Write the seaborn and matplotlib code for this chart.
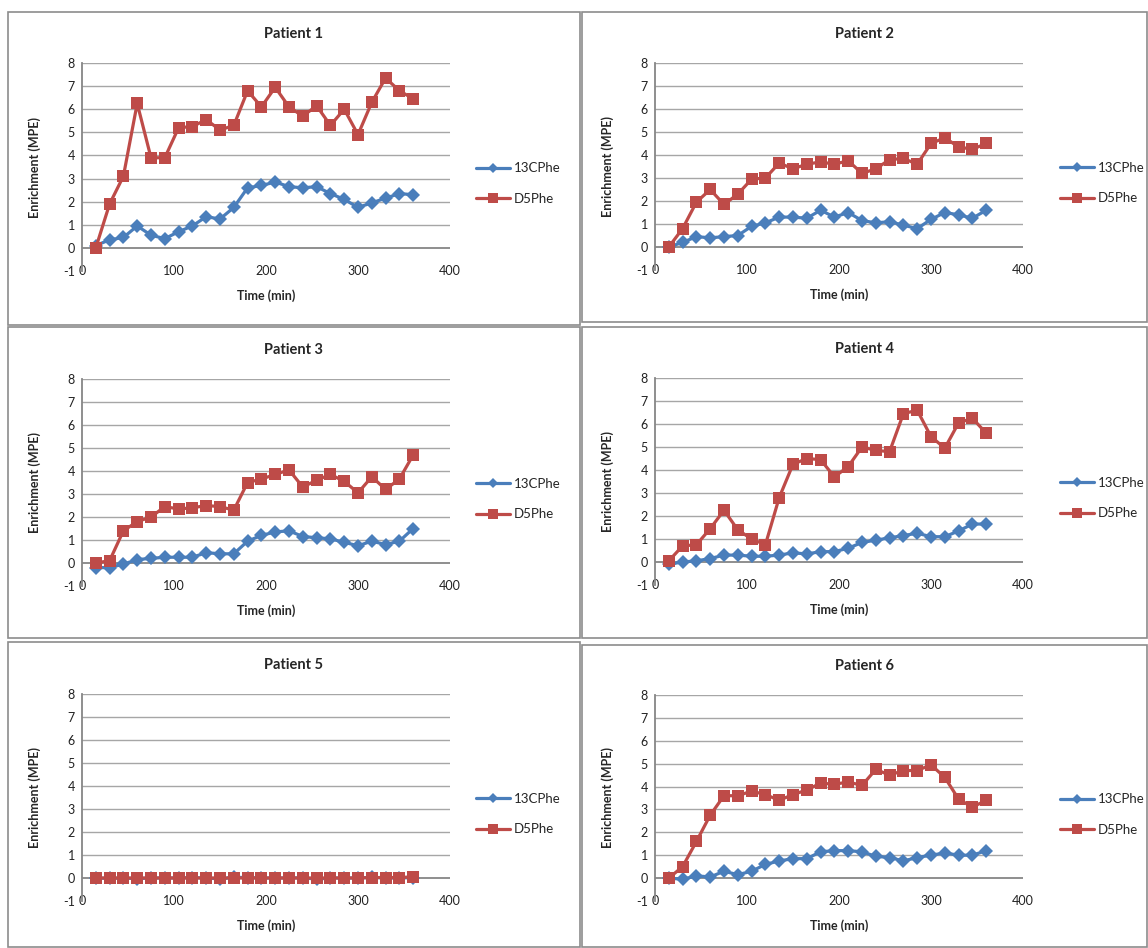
import pandas as pd
import matplotlib
matplotlib.use("Agg")
import matplotlib.pyplot as plt
from matplotlib.patches import Rectangle
import seaborn as sns

sns.set_style("white")
plt.rcParams['font.family'] = ['Lato', 'DejaVu Sans']
plt.rcParams['axes.unicode_minus'] = False

# --- data ---
time_min = [15, 30, 45, 60, 75, 90, 105, 120, 135, 150, 165, 180,
            195, 210, 225, 240, 255, 270, 285, 300, 315, 330, 345, 360]

p1_13c = [0.1, 0.35, 0.45, 0.95, 0.55, 0.4, 0.7, 0.95, 1.35, 1.25, 1.75, 2.6,
          2.7, 2.85, 2.65, 2.6, 2.65, 2.35, 2.1, 1.75, 1.95, 2.15, 2.35, 2.3]
p1_d5 = [0.0, 1.9, 3.1, 6.25, 3.9, 3.9, 5.2, 5.25, 5.55, 5.1, 5.3, 6.8,
         6.1, 6.95, 6.1, 5.7, 6.15, 5.3, 6.0, 4.9, 6.3, 7.35, 6.8, 6.45]

p2_13c = [0.0, 0.2, 0.45, 0.4, 0.45, 0.5, 0.9, 1.05, 1.3, 1.3, 1.25, 1.6,
          1.3, 1.5, 1.15, 1.05, 1.1, 0.95, 0.8, 1.2, 1.5, 1.4, 1.25, 1.6]
p2_d5 = [0.0, 0.8, 1.95, 2.5, 1.85, 2.3, 2.95, 3.0, 3.65, 3.4, 3.6, 3.7,
         3.6, 3.75, 3.2, 3.4, 3.8, 3.85, 3.6, 4.5, 4.75, 4.35, 4.25, 4.5]

p3_13c = [-0.2, -0.2, -0.05, 0.15, 0.2, 0.25, 0.25, 0.25, 0.45, 0.4, 0.4, 0.95,
          1.2, 1.35, 1.4, 1.15, 1.1, 1.05, 0.9, 0.75, 0.95, 0.8, 0.95, 1.5]
p3_d5 = [0.0, 0.1, 1.4, 1.8, 2.0, 2.45, 2.35, 2.4, 2.5, 2.45, 2.3, 3.5,
         3.65, 3.85, 4.05, 3.3, 3.6, 3.85, 3.55, 3.05, 3.75, 3.2, 3.65, 4.7]

p4_13c = [-0.1, 0.0, 0.05, 0.15, 0.3, 0.3, 0.25, 0.25, 0.3, 0.4, 0.35, 0.45,
          0.45, 0.6, 0.85, 0.95, 1.05, 1.15, 1.25, 1.1, 1.1, 1.35, 1.65, 1.65]
p4_d5 = [0.05, 0.7, 0.75, 1.45, 2.25, 1.4, 1.0, 0.75, 2.8, 4.25, 4.5, 4.45,
         3.7, 4.15, 5.0, 4.85, 4.8, 6.45, 6.6, 5.45, 4.95, 6.05, 6.25, 5.6]

p5_13c = [0.0, -0.02, 0.0, -0.03, 0.0, 0.0, 0.0, 0.02, 0.0, -0.04, 0.03, 0.02,
          0.0, 0.0, 0.0, 0.01, -0.05, 0.0, 0.0, 0.0, 0.03, 0.0, 0.0, 0.02]
p5_d5 = [0.0, 0.0, 0.0, 0.0, 0.0, 0.0, 0.0, 0.0, 0.0, 0.0, 0.0, 0.0,
         0.0, 0.0, 0.0, 0.0, 0.0, 0.0, 0.0, 0.0, 0.02, 0.02, 0.02, 0.05]

p6_13c = [0.0, -0.05, 0.1, 0.05, 0.3, 0.15, 0.3, 0.6, 0.75, 0.85, 0.85, 1.15,
          1.2, 1.2, 1.15, 0.95, 0.9, 0.75, 0.9, 1.0, 1.1, 1.0, 1.0, 1.2]
p6_d5 = [0.0, 0.5, 1.6, 2.75, 3.6, 3.6, 3.8, 3.65, 3.4, 3.65, 3.85, 4.15,
         4.1, 4.2, 4.05, 4.75, 4.5, 4.7, 4.7, 4.95, 4.4, 3.45, 3.1, 3.4]

patients = ["Patient 1", "Patient 2", "Patient 3", "Patient 4", "Patient 5", "Patient 6"]
series_13c = [p1_13c, p2_13c, p3_13c, p4_13c, p5_13c, p6_13c]
series_d5 = [p1_d5, p2_d5, p3_d5, p4_d5, p5_d5, p6_d5]

# --- layout in pixels (figure is 1148 x 948) ---
W, H = 1148, 948
boxes = [(8, 12, 580, 325), (582, 12, 1147, 322),
         (8, 327, 580, 638), (582, 327, 1147, 638),
         (8, 642, 580, 947), (582, 645, 1147, 947)]
plots = [(82, 63, 450, 271), (655, 63, 1023, 270),
         (82, 379, 450, 586), (655, 378, 1023, 585),
         (82, 694, 450, 901), (655, 695, 1023, 901)]
title_y = [34, 34, 350, 349, 665, 666]

colors = {"13CPhe": "#4A7EBB", "D5Phe": "#BE4B48"}
markers = {"13CPhe": "D", "D5Phe": "s"}
msize = {"D": 7.5, "s": 8.6}

fig = plt.figure(figsize=(W / 100, H / 100), dpi=100)

for i, name in enumerate(patients):
    bx0, by0, bx1, by1 = boxes[i]
    fig.patches.append(Rectangle((bx0 / W, 1 - by1 / H), (bx1 - bx0) / W, (by1 - by0) / H,
                                 transform=fig.transFigure, fill=False,
                                 edgecolor="#8c8c8c", linewidth=1.2))
    x0, yt, x1, yb = plots[i]
    ax = fig.add_axes([x0 / W, 1 - yb / H, (x1 - x0) / W, (yb - yt) / H])

    df = pd.DataFrame({
        "time": time_min * 2,
        "value": series_13c[i] + series_d5[i],
        "series": ["13CPhe"] * len(time_min) + ["D5Phe"] * len(time_min),
    })
    sns.lineplot(data=df, x="time", y="value", hue="series", style="series",
                 palette=colors, markers=markers, dashes=False,
                 linewidth=2.3, markersize=8, markeredgewidth=0,
                 errorbar=None, ax=ax, legend=False)
    for ln in ax.lines:
        ln.set_markersize(msize.get(ln.get_marker(), 8))

    ax.set_xlim(0, 400)
    ax.set_ylim(-1, 8)
    ax.set_xticks([0, 100, 200, 300, 400])
    ax.set_yticks(range(-1, 9))
    for y in range(1, 9):
        ax.axhline(y, color="#a6a6a6", linewidth=1.0, zorder=0)
    ax.axhline(0, color="#868686", linewidth=1.3, zorder=0)
    for s in ["top", "right", "bottom"]:
        ax.spines[s].set_visible(False)
    ax.spines["left"].set_color("#868686")
    ax.spines["left"].set_linewidth(1.3)
    ax.tick_params(axis="x", length=0, pad=0, labelsize=9, colors="#222222")
    ax.tick_params(axis="y", length=3, width=1, color="#868686", pad=2,
                   labelsize=9, labelcolor="#222222")
    for lab in ax.get_xticklabels():
        lab.set_va("center")

    ax.set_xlabel("Time (min)", fontsize=9, fontweight="bold")
    ax.set_ylabel("Enrichment (MPE)", fontsize=9, fontweight="bold")
    ax.xaxis.set_label_coords(0.5, -25 / (yb - yt))
    ax.xaxis.label.set_va("center")
    ax.yaxis.set_label_coords(-47 / (x1 - x0), 0.5)
    ax.yaxis.label.set_va("center")

    handles = [plt.Line2D([], [], color=colors[k], marker=markers[k], linewidth=2.3,
                          markersize=5.5 if k == "13CPhe" else 6.5, markeredgewidth=0)
               for k in ["13CPhe", "D5Phe"]]
    ax.legend(handles, ["13CPhe", "D5Phe"], loc="center left",
              bbox_to_anchor=(1.07 if i % 2 == 0 else 1.10, 0.42),
              frameon=False, fontsize=9.5, handlelength=2.6,
              handletextpad=0.25, labelspacing=1.4, borderpad=0, borderaxespad=0)

    fig.text((bx0 + bx1) / 2 / W, 1 - title_y[i] / H, name, ha="center", va="center",
             fontsize=10.5, fontweight="bold")

fig.savefig("out.png", dpi=100, facecolor="white")
plt.close(fig)
